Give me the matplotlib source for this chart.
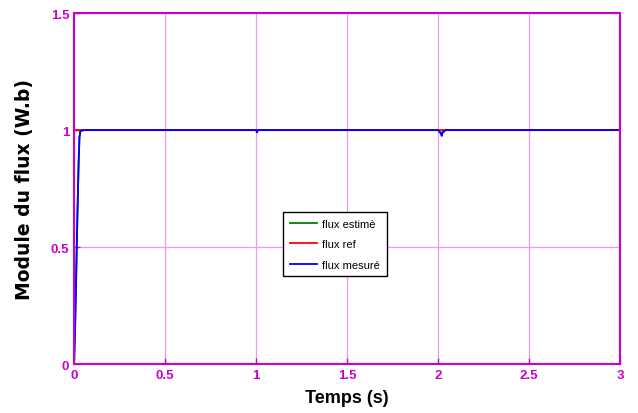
import matplotlib
matplotlib.use("Agg")
import matplotlib.pyplot as plt
import numpy as np

# flux response data (s, Wb)
t_rise = [0.0, 0.005, 0.01, 0.015, 0.02, 0.025, 0.03, 0.035, 0.05, 1.0, 1.005, 1.01, 1.5, 2.0, 2.015, 2.02, 2.025, 2.04, 2.5, 3.0]
flux_mesure = [0.0, 0.12, 0.3, 0.5, 0.68, 0.85, 0.97, 0.995, 1.0, 1.0, 0.99, 1.0, 1.0, 1.0, 0.985, 0.975, 0.99, 1.0, 1.0, 1.0]
flux_estime = [0.0, 0.12, 0.3, 0.5, 0.68, 0.85, 0.97, 0.995, 1.0, 1.0, 0.995, 1.0, 1.0, 1.0, 0.99, 0.98, 0.99, 1.0, 1.0, 1.0]
t_ref = [0.0, 3.0]
flux_ref = [1.0, 1.0]

xticks = [0, 0.5, 1, 1.5, 2, 2.5, 3]
yticks = [0, 0.5, 1, 1.5]

mag = "#cc00cc"
narrow = ["Liberation Sans Narrow", "Liberation Sans", "DejaVu Sans"]

fig = plt.figure(figsize=(6.38, 4.14), dpi=100)
ax = fig.add_axes([0.116, 0.118, 0.856, 0.848])

ax.plot(t_rise, flux_estime, color="#008000", lw=1.3, label="flux estimè")
ax.plot(t_ref, flux_ref, color="red", lw=1.3, label="flux ref")
ax.plot(t_rise, flux_mesure, color="blue", lw=1.3, label="flux mesuré")

ax.set_xlim(0, 3)
ax.set_ylim(0, 1.5)
ax.set_xticks(xticks)
ax.set_yticks(yticks)
ax.set_xticklabels([f"{v:g}" for v in xticks], fontfamily=narrow, fontweight="bold", fontsize=9.5, color=mag)
ax.set_yticklabels([f"{v:g}" for v in yticks], fontfamily=narrow, fontweight="bold", fontsize=9.5, color=mag)
ax.tick_params(direction="in", length=4, color=mag, width=1)
ax.grid(True, color="#ee99ee", lw=0.9)
for s in ax.spines.values():
    s.set_color(mag)
    s.set_linewidth(1.5)

ax.set_xlabel("Temps (s)", fontfamily=narrow, fontweight="bold", fontsize=13, labelpad=6)
ax.set_ylabel("Module du flux (W.b)", fontfamily="DejaVu Sans", fontweight="bold",
              fontsize=13.5, labelpad=12)

leg = ax.legend(loc="lower left", bbox_to_anchor=(0.383, 0.25), borderaxespad=0,
                prop={"family": narrow, "size": 8}, fancybox=False, framealpha=1,
                edgecolor="black", handlelength=2.4, borderpad=0.6, labelspacing=0.95,
                handletextpad=0.5)
leg.get_frame().set_linewidth(1.0)

fig.savefig("out.png", dpi=100)
